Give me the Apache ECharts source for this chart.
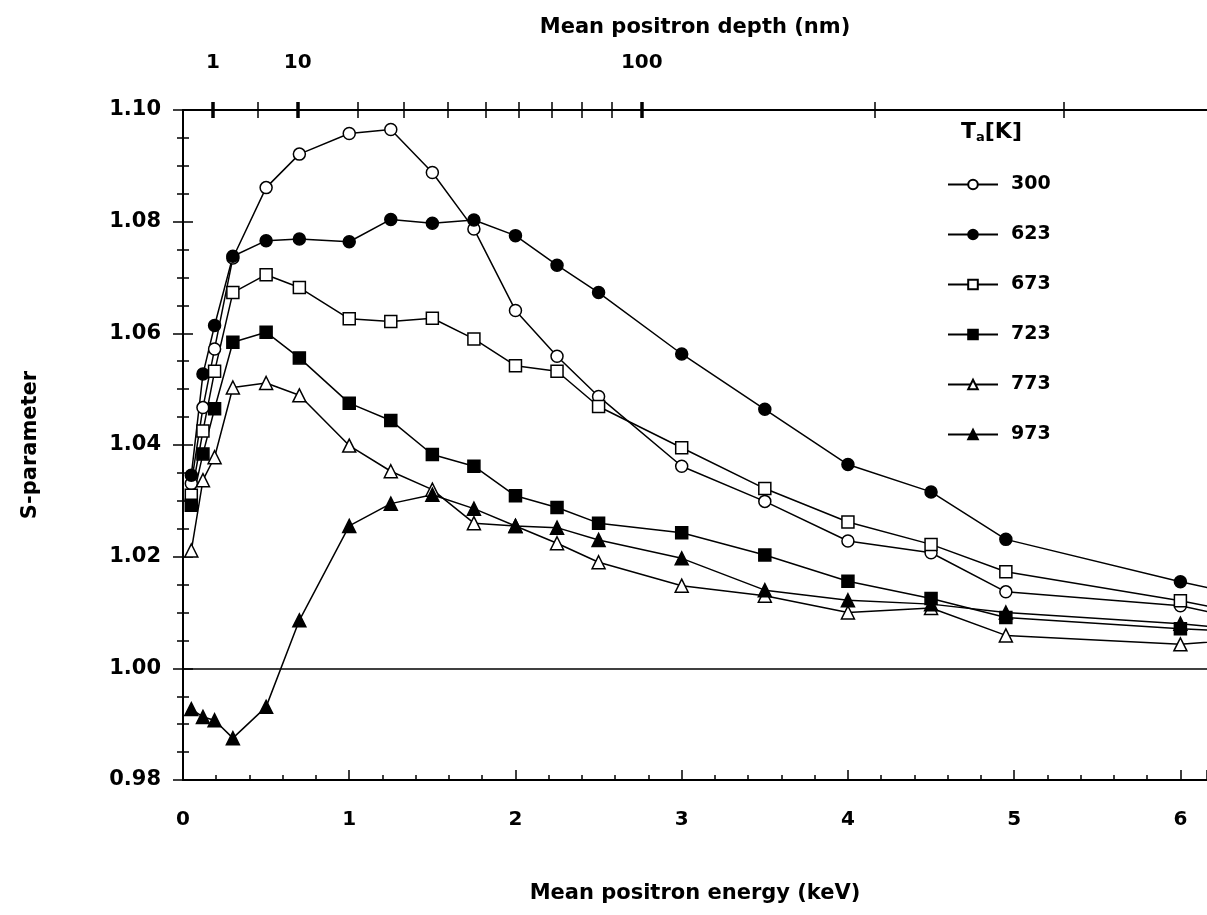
<!DOCTYPE html>
<html>
<head>
<meta charset="utf-8">
<script src="https://cdn.jsdelivr.net/npm/echarts@6/dist/echarts.min.js"></script>
<style>
  html, body { margin: 0; padding: 0; background: #fff; }
  #chart { width: 1207px; height: 915px; }
</style>
</head>
<body>
<div id="chart"></div>
<script>
// 能量 (keV)
var energy = [0.05, 0.12, 0.19, 0.3, 0.5, 0.7, 1.0, 1.25, 1.5, 1.75, 2.0, 2.25, 2.5, 3.0, 3.5, 4.0, 4.5, 4.95, 6.0, 6.5];

// S 参数, 各退火温度
var s300 = [1.0331, 1.0467, 1.0572, 1.0735, 1.0861, 1.0921, 1.0958, 1.0965, 1.0888, 1.0787, 1.0641, 1.0559, 1.0487, 1.0362, 1.0299, 1.0228, 1.0207, 1.0137, 1.0112, 1.0080];
var s623 = [1.0346, 1.0527, 1.0614, 1.0738, 1.0766, 1.0769, 1.0764, 1.0804, 1.0797, 1.0803, 1.0775, 1.0722, 1.0673, 1.0563, 1.0464, 1.0365, 1.0316, 1.0231, 1.0155, 1.0123];
var s673 = [1.0310, 1.0425, 1.0532, 1.0673, 1.0705, 1.0682, 1.0626, 1.0621, 1.0627, 1.0590, 1.0542, 1.0532, 1.0469, 1.0395, 1.0322, 1.0262, 1.0222, 1.0173, 1.0121, 1.0092];
var s723 = [1.0292, 1.0384, 1.0465, 1.0584, 1.0602, 1.0556, 1.0475, 1.0444, 1.0383, 1.0362, 1.0309, 1.0288, 1.0260, 1.0243, 1.0203, 1.0156, 1.0125, 1.0091, 1.0071, 1.0064];
var s773 = [1.0211, 1.0337, 1.0378, 1.0503, 1.0511, 1.0489, 1.0399, 1.0353, 1.0320, 1.0260, 1.0255, 1.0224, 1.0190, 1.0148, 1.0130, 1.0100, 1.0108, 1.0059, 1.0043, 1.0054];
var s973 = [0.9927, 0.9913, 0.9907, 0.9875, 0.9931, 1.0086, 1.0255, 1.0295, 1.0311, 1.0286, 1.0255, 1.0252, 1.0230, 1.0197, 1.0140, 1.0122, 1.0115, 1.0100, 1.0080, 1.0066];

// 上轴: 平均深度 (nm) 及其对应能量位置
var depthTicks = [1, 5, 10, 20, 30, 40, 50, 60, 70, 80, 90, 100, 200, 300];
var depthEnergy = [0.18, 0.45, 0.69, 1.05, 1.33, 1.59, 1.82, 2.02, 2.22, 2.40, 2.58, 2.76, 4.16, 5.30];
var depthLabels = [1, 10, 100];

var FONT = 'DejaVu Sans';

var zip = function(ys) {
    return energy.map(function(e, i) { return [e, ys[i]]; });
};

var energyOf = function(d) {
    return depthEnergy[depthTicks.indexOf(d)];
};

var majorE = depthLabels.map(energyOf);
var minorE = depthTicks.filter(function(d) {
    return depthLabels.indexOf(d) < 0;
}).map(energyOf);

var mkSeries = function(name, ys, symbol, filled) {
    return {
        name: name,
        type: 'line',
        data: zip(ys),
        symbol: symbol,
        symbolSize: symbol === 'triangle' ? 13 : 12,
        showSymbol: true,
        clip: true,
        lineStyle: { color: '#000', width: 1.5 },
        itemStyle: {
            color: filled ? '#000' : '#fff',
            borderColor: '#000',
            borderWidth: 1.5
        },
        emphasis: { disabled: true }
    };
};

var chart = echarts.init(document.getElementById('chart'));

var XMIN = 0, XMAX = 6.16;

var topBase = {
    type: 'value',
    position: 'top',
    min: XMIN,
    max: XMAX,
    splitLine: { show: false },
    axisLabel: { show: false },
    axisTick: { show: false },
    axisLine: { show: false }
};

var option = {
    animation: false,
    backgroundColor: '#fff',
    grid: { left: 183, right: -3, top: 110, bottom: 135 },
    title: {
        left: 956,
        top: 115,
        text: '{t|T}{s|a}{t|[K]}',
        textStyle: {
            rich: {
                t: { fontFamily: FONT, fontSize: 22, fontWeight: 'bold', color: '#000' },
                s: { fontFamily: FONT, fontSize: 13, fontWeight: 'bold', color: '#000', padding: [11, 0, 0, 0] }
            }
        }
    },
    legend: {
        orient: 'vertical',
        left: 942,
        top: 170,
        itemWidth: 50,
        itemHeight: 12,
        itemGap: 31,
        selectedMode: false,
        textStyle: { fontFamily: FONT, fontSize: 19, fontWeight: 'bold', color: '#000', padding: [0, 0, 0, 8] },
        data: ['300', '623', '673', '723', '773', '973']
    },
    xAxis: [
        {
            type: 'value',
            position: 'bottom',
            min: XMIN,
            max: XMAX,
            interval: 1,
            name: 'Mean positron energy (keV)',
            nameLocation: 'middle',
            nameGap: 103,
            nameTextStyle: { fontFamily: FONT, fontSize: 21, fontWeight: 'bold', color: '#000' },
            axisLine: { lineStyle: { color: '#000', width: 2 } },
            axisTick: { inside: true, length: 10, lineStyle: { color: '#000', width: 1.5 } },
            minorTick: { show: true, splitNumber: 5, length: 5, lineStyle: { color: '#000', width: 1.5 } },
            splitLine: { show: false },
            axisLabel: {
                margin: 30,
                fontFamily: FONT, fontSize: 20, fontWeight: 'bold', color: '#000',
                showMaxLabel: false
            }
        },
        // 上轴主线 + 标签
        Object.assign({}, topBase, {
            name: 'Mean positron depth (nm)',
            nameLocation: 'middle',
            nameGap: 72,
            nameTextStyle: { fontFamily: FONT, fontSize: 21, fontWeight: 'bold', color: '#000' },
            axisLine: { show: true, lineStyle: { color: '#000', width: 2 } },
            axisLabel: {
                show: true,
                customValues: majorE,
                margin: 37,
                fontFamily: FONT, fontSize: 20, fontWeight: 'bold', color: '#000',
                formatter: function(v) {
                    var i = majorE.indexOf(v);
                    return i >= 0 ? String(depthLabels[i]) : '';
                }
            }
        }),
        // 上轴细刻度 (穿过轴线)
        Object.assign({}, topBase, {
            offset: -8,
            axisTick: { show: true, customValues: minorE, inside: false, length: 16, lineStyle: { color: '#000', width: 1.5 } }
        }),
        // 上轴粗刻度
        Object.assign({}, topBase, {
            offset: -8,
            axisTick: { show: true, customValues: majorE, inside: false, length: 16, lineStyle: { color: '#000', width: 3.5 } }
        })
    ],
    yAxis: [
        {
            type: 'value',
            position: 'left',
            min: 0.98,
            max: 1.10,
            interval: 0.02,
            name: 'S-parameter',
            nameLocation: 'middle',
            nameGap: 142,
            nameTextStyle: { fontFamily: FONT, fontSize: 21, fontWeight: 'bold', color: '#000' },
            axisLine: { lineStyle: { color: '#000', width: 2 } },
            axisTick: { inside: true, length: 10, lineStyle: { color: '#000', width: 1.5 } },
            minorTick: { show: true, splitNumber: 4, length: 6, lineStyle: { color: '#000', width: 1.5 } },
            splitLine: { show: false },
            axisLabel: {
                margin: 22,
                fontFamily: FONT, fontSize: 21, fontWeight: 'bold', color: '#000',
                formatter: function(v) { return v.toFixed(2); }
            }
        },
        {
            type: 'value',
            position: 'right',
            min: 0.98,
            max: 1.10,
            interval: 0.02,
            axisLine: { lineStyle: { color: '#000', width: 2 } },
            axisTick: { inside: true, length: 10, lineStyle: { color: '#000', width: 1.5 } },
            minorTick: { show: true, splitNumber: 4, length: 6, lineStyle: { color: '#000', width: 1.5 } },
            splitLine: { show: false },
            axisLabel: { show: false }
        }
    ],
    series: [
        mkSeries('300', s300, 'circle', false),
        mkSeries('623', s623, 'circle', true),
        mkSeries('673', s673, 'rect', false),
        mkSeries('723', s723, 'rect', true),
        mkSeries('773', s773, 'triangle', false),
        mkSeries('973', s973, 'triangle', true)
    ]
};

// S = 1.00 水平线
option.series[0].markLine = {
    silent: true,
    symbol: 'none',
    label: { show: false },
    lineStyle: { color: '#000', width: 1.5, type: 'solid' },
    data: [{ yAxis: 1.0 }]
};

chart.setOption(option);
</script>
</body>
</html>
